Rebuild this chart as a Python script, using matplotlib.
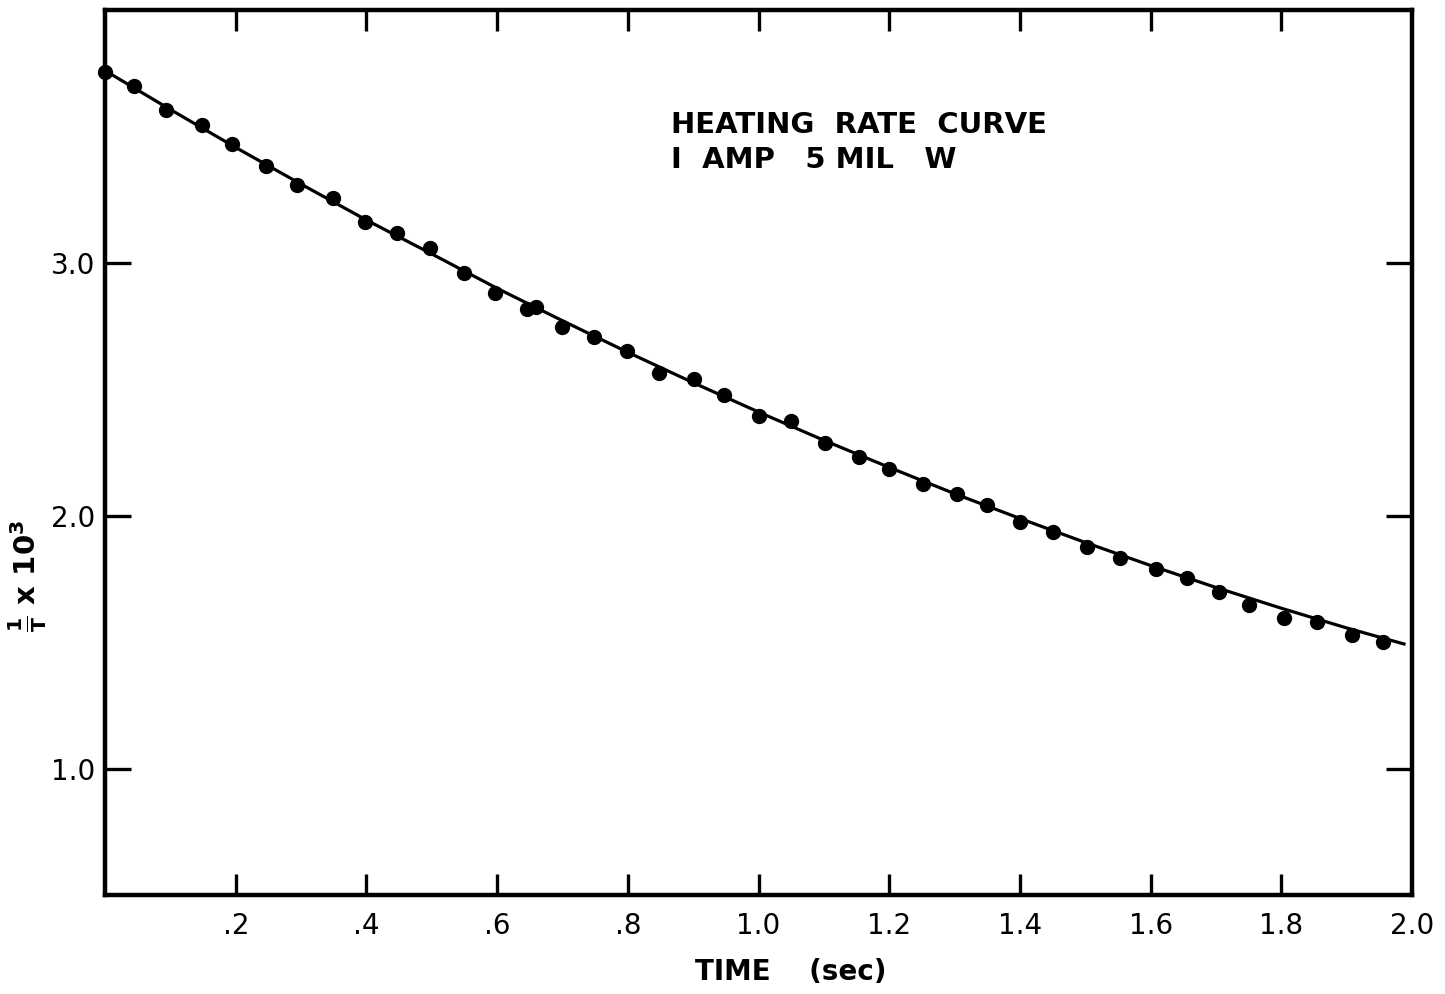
import matplotlib
matplotlib.use("Agg")
import matplotlib.pyplot as plt

# Measured points: time (s) and 1/T x 10^3
time_pts = [0.0, 0.045, 0.094, 0.148, 0.195, 0.247, 0.294, 0.349, 0.398, 0.446,
            0.498, 0.549, 0.597, 0.645, 0.659, 0.699, 0.748, 0.798, 0.848, 0.901,
            0.947, 1.001, 1.049, 1.102, 1.153, 1.200, 1.251, 1.304, 1.350, 1.400,
            1.450, 1.503, 1.553, 1.608, 1.655, 1.705, 1.751, 1.804, 1.855, 1.908,
            1.955]
inv_T = [3.755, 3.699, 3.604, 3.545, 3.470, 3.381, 3.309, 3.257, 3.160, 3.118,
         3.059, 2.958, 2.879, 2.819, 2.827, 2.747, 2.707, 2.650, 2.564, 2.540,
         2.476, 2.394, 2.374, 2.287, 2.234, 2.186, 2.127, 2.085, 2.041, 1.974,
         1.937, 1.876, 1.833, 1.790, 1.754, 1.698, 1.647, 1.595, 1.578, 1.529,
         1.500]

# Smooth fitted curve
curve_t = [0.0, 0.1, 0.2, 0.3, 0.4, 0.5, 0.6, 0.7, 0.8, 0.9, 1.0,
           1.1, 1.2, 1.3, 1.4, 1.5, 1.6, 1.7, 1.8, 1.9, 1.99]
curve_v = [3.760, 3.606, 3.456, 3.311, 3.169, 3.035, 2.899, 2.771, 2.646, 2.526, 2.410,
           2.298, 2.191, 2.087, 1.989, 1.894, 1.803, 1.716, 1.634, 1.556, 1.491]

x_ticks = [0.2, 0.4, 0.6, 0.8, 1.0, 1.2, 1.4, 1.6, 1.8, 2.0]
x_tick_labels = [".2", ".4", ".6", ".8", "1.0", "1.2", "1.4", "1.6", "1.8", "2.0"]
y_ticks = [1.0, 2.0, 3.0]
y_tick_labels = ["1.0", "2.0", "3.0"]

title_lines = ["HEATING  RATE  CURVE", "I  AMP   5 MIL   W"]

fig = plt.figure(figsize=(14.45, 9.94), dpi=100)
ax = fig.add_axes([0.0727, 0.0996, 0.9045, 0.8904])

ax.plot(curve_t, curve_v, color="black", lw=2.3, solid_capstyle="butt", zorder=2)
ax.plot(time_pts, inv_T, "o", color="black", ms=10, zorder=3, clip_on=False)

ax.set_xlim(0.0, 2.0)
ax.set_ylim(0.5, 4.0)

for s in ax.spines.values():
    s.set_linewidth(3.2)

ax.set_xticks(x_ticks)
ax.set_xticklabels(x_tick_labels)
ax.set_yticks(y_ticks)
ax.set_yticklabels(y_tick_labels)

ax.tick_params(axis="x", direction="in", length=15, width=2.4, top=True,
               labelsize=20, pad=12)
ax.tick_params(axis="y", direction="in", length=19, width=2.4, right=True,
               labelsize=20, pad=7)
# hide the 2.0 tick mark (at the corner) but keep label
xt = ax.xaxis.get_major_ticks()
xt[-1].tick1line.set_visible(False)
xt[-1].tick2line.set_visible(False)

for lab in ax.get_xticklabels() + ax.get_yticklabels():
    lab.set_fontfamily("DejaVu Sans")

ax.text(0.433, 0.870, title_lines[0], transform=ax.transAxes, fontsize=21,
        fontweight="bold", ha="left", va="center")
ax.text(0.433, 0.8305, title_lines[1], transform=ax.transAxes, fontsize=21,
        fontweight="bold", ha="left", va="center")

fig.text(0.547, 0.022, "TIME    (sec)", fontsize=20, fontweight="bold",
         ha="center", va="center")
fig.text(0.019, 0.421, r"$\mathbf{\frac{1}{T}}$ x 10$^\mathbf{3}$", fontsize=21,
         fontweight="bold", rotation=90, ha="center", va="center")

fig.savefig("out.png", dpi=100, facecolor="white")
